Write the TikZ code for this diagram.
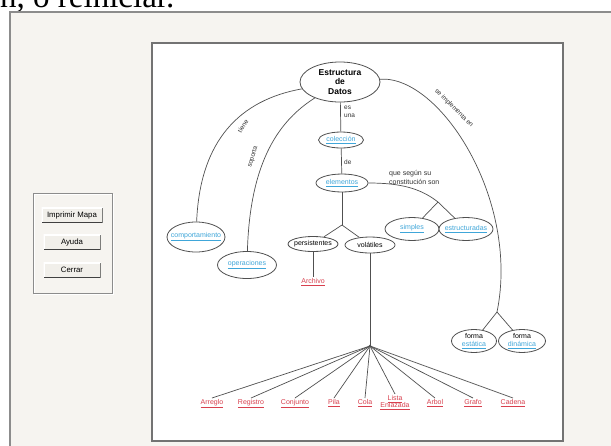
\documentclass[tikz,border=0pt]{standalone}
\usepackage{fontspec}
\setmainfont{Liberation Serif}
\newfontfamily\mapfont{Liberation Sans}
\usetikzlibrary{shapes.geometric}

\definecolor{azul}{HTML}{3FA6D9}
\definecolor{rojo}{HTML}{D8404E}
\definecolor{linea}{HTML}{505050}
\definecolor{fondo}{HTML}{F6F4F0}
\definecolor{marco}{HTML}{8C8C8C}
\definecolor{cara}{HTML}{F1EFEA}

% zero-width text, so the ellipse keeps the size given to it
\newcommand{\mbx}[1]{\makebox[0pt]{#1}}
\newcommand{\liga}[1]{\mbx{\underline{#1}}}

\begin{document}
\begin{tikzpicture}[x=1pt, y=-1pt,
      concepto/.style={ellipse, draw=linea, line width=0.8pt, fill=white, inner sep=0pt, align=center,
                       font=\mapfont\fontsize{7}{8}\selectfont},
      enlace/.style={draw=linea, line width=0.7pt},
      etiqueta/.style={font=\mapfont\fontsize{6.5}{8}\selectfont, text=black!80, inner sep=0pt, align=left},
      tipo/.style={font=\mapfont\fontsize{7}{7.5}\selectfont, text=rojo, inner sep=1pt, anchor=north, align=center},
      boton/.style={rectangle, fill=cara, minimum width=57pt, minimum height=15pt, inner sep=0pt,
                    font=\mapfont\fontsize{7.8}{9}\selectfont,
                    path picture={
                      \draw[white, line width=2pt] (path picture bounding box.south west)
                          -- (path picture bounding box.north west) -- (path picture bounding box.north east);
                      \draw[black!75, line width=2pt] (path picture bounding box.north east)
                          -- (path picture bounding box.south east) -- (path picture bounding box.south west);}}]
      \useasboundingbox (0,0) rectangle (611,445);

      % window and panels
      \node[font=\fontsize{33}{35}\selectfont, anchor=base west, inner sep=0pt] (texto) at (0,7) {n, o reiniciar.};
      \draw[marco, fill=fondo, line width=1.2pt] (10,12) rectangle (630,470);
      \draw[black!55, fill=white, line width=1.5pt] (152,43) rectangle (563,441);
      \draw[white, line width=1pt] (34,194) rectangle (113,294);
      \draw[marco, line width=0.8pt] (33,193) rectangle (112,293);
      \node[boton, minimum width=61pt] (imprimir) at (72,215) {Imprimir Mapa};
      \node[boton] (ayuda)    at (72,242) {Ayuda};
      \node[boton] (cerrar)   at (72,270) {Cerrar};

      % concepts
      \node[concepto, minimum width=80pt, minimum height=40pt, font=\mapfont\bfseries\fontsize{8.5}{9.5}\selectfont]
            (estr) at (340,82) {\mbx{Estructura}\\\mbx{de}\\\mbx{Datos}};
      \node[concepto, text=azul, minimum width=45pt, minimum height=16pt] (colec)  at (341,140) {\liga{colección}};
      \node[concepto, text=azul, minimum width=52pt, minimum height=18pt] (elem)   at (342,183) {\liga{elementos}};
      \node[concepto, text=azul, minimum width=54pt, minimum height=23pt] (simp)   at (412,229) {\liga{simples}};
      \node[concepto, text=azul, minimum width=54pt, minimum height=23pt] (estrc)  at (466,229) {\liga{estructuradas}};
      \node[concepto, minimum width=50pt, minimum height=15pt]            (pers)   at (313,244) {\mbx{persistentes}};
      \node[concepto, minimum width=50pt, minimum height=16pt]            (vola)   at (370,245) {\mbx{volátiles}};
      \node[concepto, text=azul, minimum width=58pt, minimum height=30pt] (comp)   at (196,237) {\liga{comportamiento}};
      \node[concepto, text=azul, minimum width=59pt, minimum height=27pt] (oper)   at (247,265) {\liga{operaciones}};
      \node[concepto, minimum width=45pt, minimum height=23pt] (fest) at (474,341) {\mbx{forma}\\\textcolor{azul}{\liga{estática}}};
      \node[concepto, minimum width=47pt, minimum height=23pt] (fdin) at (522,341) {\mbx{forma}\\\textcolor{azul}{\liga{dinámica}}};
      \node[tipo] (archivo) at (313,277) {\underline{Archivo}};

      \coordinate (jelem) at (342,225);
      \coordinate (jtipo) at (438,202);
      \coordinate (jimp)  at (497,312);
      \coordinate (hub)   at (370,346);

      % connectors
      \draw[enlace] (estr) -- (colec);
      \draw[enlace] (colec) -- (elem);
      \draw[enlace] (elem) -- (jelem);
      \draw[enlace] (jelem) -- (pers);
      \draw[enlace] (jelem) -- (vola);
      \draw[enlace] (pers) -- (archivo);
      \draw[enlace] (vola) -- (hub);
      \draw[enlace] (elem) .. controls (400,183) and (420,188) .. (jtipo);
      \draw[enlace] (jtipo) -- (simp);
      \draw[enlace] (jtipo) -- (estrc);
      \draw[enlace] (estr) .. controls (240,100) and (200,140) .. (comp);
      \draw[enlace] (estr) .. controls (280,120) and (250,160) .. (oper);
      \draw[enlace] (estr) .. controls (440,75) and (520,200) .. (jimp);
      \draw[enlace] (jimp) -- (fest);
      \draw[enlace] (jimp) -- (fdin);

      % linking words
      \node[etiqueta, anchor=west] (esuna) at (344,112) {es\\una};
      \node[etiqueta, anchor=west] (de)    at (344,162) {de};
      \node[etiqueta, anchor=west, font=\mapfont\fontsize{7}{9}\selectfont] (segun) at (389,177) {que según su\\constitución son};
      \node[etiqueta, rotate=57]  (tiene)   at (243,126) {tiene};
      \node[etiqueta, rotate=73]  (soporta) at (253,157) {soporta};
      \node[etiqueta, rotate=-45] (implem)  at (454,108) {se implementa en};

      % kinds of structures
      \node[tipo] (arreglo)  at (212,398) {\underline{Arreglo}};
      \node[tipo] (registro) at (251,398) {\underline{Registro}};
      \node[tipo] (conjunto) at (295,398) {\underline{Conjunto}};
      \node[tipo] (pila)     at (334,398) {\underline{Pila}};
      \node[tipo] (cola)     at (365,398) {\underline{Cola}};
      \node[tipo] (lista)    at (395,394) {\underline{Lista}\\\underline{Enlazada}};
      \node[tipo] (arbol)    at (435,398) {\underline{Arbol}};
      \node[tipo] (grafo)    at (473,398) {\underline{Grafo}};
      \node[tipo] (cadena)   at (513,398) {\underline{Cadena}};
      \foreach \t in {arreglo, registro, conjunto, pila, cola, lista, arbol, grafo, cadena}
        \draw[enlace] (hub) -- (\t.north);
      \fill[linea] (hub) circle (1.3);
    \end{tikzpicture}
\end{document}
